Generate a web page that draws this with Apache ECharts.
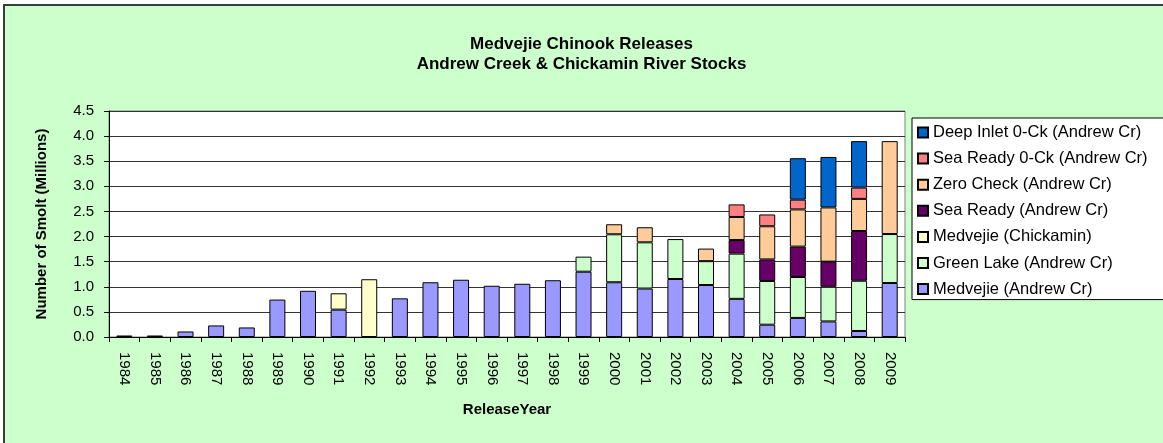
<!DOCTYPE html>
<html>
<head>
<meta charset="utf-8">
<script src="https://cdn.jsdelivr.net/npm/echarts@6/dist/echarts.min.js"></script>
<style>
html,body{margin:0;padding:0;background:#fff;overflow:hidden;width:1163px;height:443px;}
#bg{position:absolute;left:3px;top:4px;width:1300px;height:600px;background:#CCFFCC;border-left:2px solid #3a3a3a;border-top:2px solid #3a3a3a;}
#chart{position:absolute;left:0;top:0;width:1163px;height:443px;}
</style>
</head>
<body>
<div id="bg"></div>
<div id="chart"></div>
<script>
const years = ['1984','1985','1986','1987','1988','1989','1990','1991','1992','1993','1994','1995','1996','1997','1998','1999','2000','2001','2002','2003','2004','2005','2006','2007','2008','2009'];
const yTicks = [0, 0.5, 1.0, 1.5, 2.0, 2.5, 3.0, 3.5, 4.0, 4.5];
const medvejieAndrew = [0.03,0.03,0.11,0.23,0.19,0.745,0.92,0.545,null,0.77,1.09,1.14,1.02,1.06,1.13,1.30,1.09,0.965,1.155,1.035,0.76,0.245,0.38,0.31,0.12,1.075];
const greenLake      = [null,null,null,null,null,null,null,null,null,null,null,null,null,null,null,0.30,0.955,0.92,0.795,0.475,0.90,0.87,0.815,0.69,1.00,0.975];
const medvejieChick  = [null,null,null,null,null,null,null,0.325,1.15,null,null,null,null,null,null,null,null,null,null,null,null,null,null,null,null,null];
const seaReady       = [null,null,null,null,null,null,null,null,null,null,null,null,null,null,null,null,null,null,null,null,0.27,0.43,0.605,0.50,0.99,null];
const zeroCheck      = [null,null,null,null,null,null,null,null,null,null,null,null,null,null,null,null,0.20,0.30,null,0.25,0.46,0.66,0.74,1.08,0.64,1.85];
const seaReady0Ck    = [null,null,null,null,null,null,null,null,null,null,null,null,null,null,null,null,null,null,null,null,0.25,0.235,0.195,null,0.225,null];
const deepInlet      = [null,null,null,null,null,null,null,null,null,null,null,null,null,null,null,null,null,null,null,null,null,null,0.825,1.005,0.925,null];

const seriesDefs = [
  {name:'Medvejie (Andrew Cr)', data: medvejieAndrew, color:'#9999FF'},
  {name:'Green Lake (Andrew Cr)', data: greenLake, color:'#CCFFCC'},
  {name:'Medvejie (Chickamin)', data: medvejieChick, color:'#FFFFCC'},
  {name:'Sea Ready (Andrew Cr)', data: seaReady, color:'#660066'},
  {name:'Zero Check (Andrew Cr)', data: zeroCheck, color:'#FFCC99'},
  {name:'Sea Ready 0-Ck (Andrew Cr)', data: seaReady0Ck, color:'#FF8080'},
  {name:'Deep Inlet 0-Ck (Andrew Cr)', data: deepInlet, color:'#0066CC'}
];

const font = '"Liberation Sans", Arial, sans-serif';
const chart = echarts.init(document.getElementById('chart'), null, {renderer:'canvas'});
chart.setOption({
  backgroundColor: 'transparent',
  animation: false,
  title: {
    text: 'Medvejie Chinook Releases\nAndrew Creek & Chickamin River Stocks',
    left: 'center',
    top: 29,
    textStyle: {fontFamily: font, fontSize: 17, fontWeight: 'bold', color: '#000', lineHeight: 20}
  },
  legend: {
    orient: 'vertical',
    left: 912,
    top: 118,
    data: seriesDefs.map(s => s.name).reverse(),
    icon: 'rect',
    itemWidth: 10,
    itemHeight: 10,
    itemGap: 9.1,
    padding: [6, 60, 2, 5],
    backgroundColor: '#fff',
    borderColor: '#000',
    borderWidth: 1,
    borderRadius: 0,
    textStyle: {fontFamily: font, fontSize: 16.5, color: '#000'}
  },
  grid: {
    left: 109, right: 258, top: 111, bottom: 106,
    show: true, backgroundColor: '#fff', borderColor: '#808080', borderWidth: 1
  },
  xAxis: {
    type: 'category',
    data: years,
    name: 'ReleaseYear',
    nameLocation: 'middle',
    nameGap: 65,
    nameTextStyle: {fontFamily: font, fontSize: 15, fontWeight: 'bold', color: '#000'},
    axisLine: {lineStyle: {color: '#000', width: 1}},
    axisTick: {show: true, length: 5, lineStyle: {color: '#000'}},
    axisLabel: {rotate: -90, margin: 15, fontFamily: font, fontSize: 15, color: '#000'}
  },
  yAxis: {
    type: 'value',
    min: yTicks[0],
    max: yTicks[yTicks.length - 1],
    interval: 0.5,
    name: 'Number of Smolt (Millions)',
    nameLocation: 'middle',
    nameGap: 60,
    nameTextStyle: {fontFamily: font, fontSize: 15, fontWeight: 'bold', color: '#000'},
    axisLine: {show: true, lineStyle: {color: '#000', width: 1}},
    axisTick: {show: true, length: 5, lineStyle: {color: '#000'}},
    axisLabel: {fontFamily: font, fontSize: 15, color: '#000', margin: 15, formatter: v => v.toFixed(1)},
    splitLine: {show: true, lineStyle: {color: '#333', width: 1}}
  },
  series: seriesDefs.map(s => ({
    name: s.name,
    type: 'bar',
    stack: 'total',
    data: s.data,
    barWidth: 16,
    itemStyle: {color: s.color, borderColor: '#000', borderWidth: 1}
  }))
});
</script>
</body>
</html>
